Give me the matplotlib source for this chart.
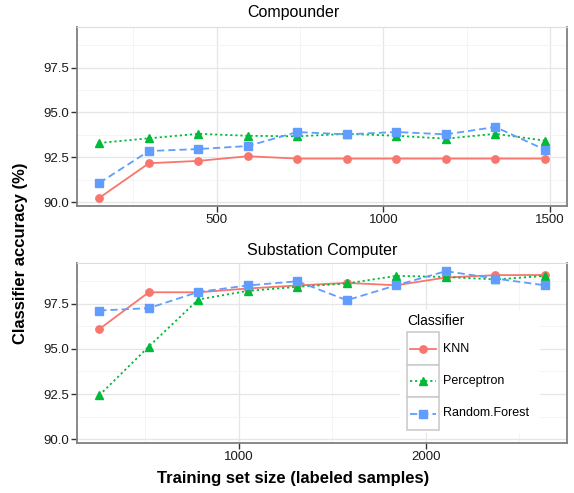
import matplotlib.pyplot as plt
from matplotlib.lines import Line2D
from matplotlib.patches import Rectangle
from matplotlib.ticker import MultipleLocator
import numpy as np

plt.rcParams["font.family"] = ["Liberation Sans", "DejaVu Sans"]

classifiers = ["KNN", "Perceptron", "Random.Forest"]
colors = {"KNN": "#F8766D", "Perceptron": "#00BA38", "Random.Forest": "#619CFF"}
markers = {"KNN": "o", "Perceptron": "^", "Random.Forest": "s"}
dashes = {"KNN": None, "Perceptron": (1.2, 1.6), "Random.Forest": (4.0, 2.2)}

# Compounder
comp_size = [148, 297, 445, 594, 742, 890, 1039, 1187, 1336, 1484]
comp_acc = {
    "KNN": [90.24, 92.17, 92.30, 92.56, 92.43, 92.43, 92.43, 92.43, 92.43, 92.43],
    "Perceptron": [93.30, 93.56, 93.81, 93.70, 93.67, 93.81, 93.70, 93.54, 93.81, 93.43],
    "Random.Forest": [91.07, 92.85, 92.96, 93.13, 93.91, 93.78, 93.91, 93.78, 94.19, 92.93],
}

# Substation Computer
subst_size = [253, 518, 783, 1048, 1313, 1578, 1843, 2108, 2373, 2637]
subst_acc = {
    "KNN": [96.10, 98.14, 98.14, 98.35, 98.52, 98.66, 98.53, 98.96, 99.09, 99.10],
    "Perceptron": [92.43, 95.13, 97.74, 98.22, 98.44, 98.63, 99.05, 98.99, 98.85, 99.05],
    "Random.Forest": [97.13, 97.26, 98.16, 98.52, 98.75, 97.70, 98.53, 99.31, 98.90, 98.53],
}

W, H = 574, 493
fig = plt.figure(figsize=(W / 100, H / 100), dpi=100)


def px_axes(left, top, right, bottom):
    return fig.add_axes([left / W, 1 - bottom / H, (right - left) / W, (bottom - top) / H])


def expand(vals, f=0.05):
    lo, hi = min(vals), max(vals)
    pad = (hi - lo) * f
    return lo - pad, hi + pad


all_y = [v for d in (comp_acc, subst_acc) for s in d.values() for v in s]
ylim = expand(all_y)

panels = [
    (px_axes(77, 27, 567, 206), comp_size, comp_acc, 500, "Compounder", 293, 13),
    (px_axes(77, 263, 567, 443), subst_size, subst_acc, 1000, "Substation Computer", 322, 250),
]

msize = {"KNN": 5.3, "Perceptron": 5.8, "Random.Forest": 5.3}

for ax, xs, acc, major, title, tx, ty in panels:
    ax.set_facecolor("white")
    ax.set_xlim(*expand(xs))
    ax.set_ylim(*ylim)
    ax.xaxis.set_major_locator(MultipleLocator(major))
    ax.xaxis.set_minor_locator(MultipleLocator(major / 2))
    ax.yaxis.set_major_locator(MultipleLocator(2.5))
    ax.yaxis.set_minor_locator(MultipleLocator(1.25))
    ax.grid(which="major", color="#e6e6e6", lw=0.9)
    ax.grid(which="minor", color="#f3f3f3", lw=0.6)
    ax.set_axisbelow(True)
    ax.yaxis.set_major_formatter(plt.FuncFormatter(lambda v, p: f"{v:.1f}"))
    ax.tick_params(which="major", length=4, width=1, color="#333333",
                   labelsize=9.5, labelcolor="#1a1a1a", pad=2)
    ax.tick_params(which="minor", length=0)
    for s in ("left", "bottom", "right"):
        ax.spines[s].set_color("#7f7f7f")
        ax.spines[s].set_linewidth(1.3)
    ax.spines["top"].set_color("#dddddd")
    ax.spines["top"].set_linewidth(0.8)

    for c in classifiers:
        line, = ax.plot(xs, acc[c], color=colors[c], marker=markers[c],
                        markersize=msize[c], lw=1.3, clip_on=False)
        if dashes[c]:
            line.set_dashes(dashes[c])

    fig.text(tx / W, 1 - ty / H, title, ha="center", va="center", fontsize=11.5)

# legend drawn in the lower panel (pixel layout from the reference)
lax = panels[1][0]


def fx(px):
    return (px - 77) / 490


def fy(py):
    return (443 - py) / 180


lax.add_patch(Rectangle((fx(400), fy(433)), fx(540) - fx(400), fy(310) - fy(433),
                        transform=lax.transAxes, facecolor="white", edgecolor="none", zorder=5))
lax.text(fx(407), fy(321), "Classifier", transform=lax.transAxes, fontsize=10,
         va="center", ha="left", zorder=6)
rows = [(332, 365), (365, 397), (397, 430)]
for c, (t, b) in zip(classifiers, rows):
    lax.add_patch(Rectangle((fx(407), fy(b)), fx(439) - fx(407), fy(t) - fy(b),
                            transform=lax.transAxes, facecolor="white",
                            edgecolor="#cccccc", lw=1.2, zorder=6))
    ym = fy((t + b) / 2)
    h = Line2D([fx(410), fx(436)], [ym, ym], transform=lax.transAxes, color=colors[c],
               lw=1.3, zorder=7)
    if dashes[c]:
        h.set_dashes(dashes[c])
    lax.add_line(h)
    lax.add_line(Line2D([fx(423)], [ym], transform=lax.transAxes, color=colors[c],
                        marker=markers[c], markersize=msize[c], lw=0, zorder=8))
    lax.text(fx(443), ym, c, transform=lax.transAxes, fontsize=9, va="center",
             ha="left", zorder=7)

fig.text(21 / W, 1 - 253 / H, "Classifier accuracy (%)", rotation=90, ha="center",
         va="center", fontsize=12, fontweight="bold")
fig.text(293 / W, 1 - 479 / H, "Training set size (labeled samples)", ha="center",
         va="center", fontsize=12, fontweight="bold")

fig.savefig("out.png", dpi=100)
